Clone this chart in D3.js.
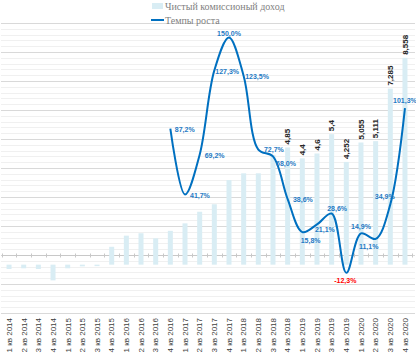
<!DOCTYPE html>
<html><head><meta charset="utf-8">
<script src="https://cdn.jsdelivr.net/npm/d3@7"></script>
<style>body{margin:0;background:#fff}svg{display:block}</style>
</head><body>
<svg id="c" width="416" height="356"></svg>
<script>
const categories = ["1 кв 2014","2 кв 2014","3 кв 2014","4 кв 2014","1 кв 2015","2 кв 2015","3 кв 2015","4 кв 2015",
"1 кв 2016","2 кв 2016","3 кв 2016","4 кв 2016","1 кв 2017","2 кв 2017","3 кв 2017","4 кв 2017",
"1 кв 2018","2 кв 2018","3 кв 2018","4 кв 2018","1 кв 2019","2 кв 2019","3 кв 2019","4 кв 2019",
"1 кв 2020","2 кв 2020","3 кв 2020","4 кв 2020"];
const income = [-0.18,-0.15,-0.18,-0.65,-0.15,-0.07,-0.06,0.74,1.2,1.3,1.09,1.4,1.71,2.19,2.5,3.5,3.78,3.78,4.54,4.85,4.4,4.6,5.4,4.252,5.055,5.111,7.285,8.558];
const incomeLabels = ["","","","","","","","","","","","","","","","","","","","4,85","4,4","4,6","5,4","4,252","5,055","5,111","7,285","8,558"];
const growthCategories = categories.slice(11);
const growth = [87.2,41.7,69.2,127.3,150.0,123.5,72.7,68.0,38.6,15.8,21.1,28.6,-12.3,14.9,11.1,34.9,101.3];
const growthLabels = ["87,2%","41,7%","69,2%","127,3%","150,0%","123,5%","72,7%","68,0%","38,6%","15,8%","21,1%","28,6%","-12,3%","14,9%","11,1%","34,9%","101,3%"];
// label placement: [anchor, dx, dy]
const growthLabelPlace = [["start",4.5,3],["start",5,3],["start",5,3],["start",1,3.8],["middle",0,-1.7],["start",1.5,3.3],
["start",5.6,2.5],["middle",13,9.4],["start",5.3,2.8],["middle",8.3,10.5],["start",-2,7.4],["middle",5.5,-2.7],
["middle",-1,9.7],["middle",0,-4.2],["middle",-7,10.3],["middle",-5.6,-5.2],["middle",0,-5.5]];
const legendNames = ["Чистый комиссионый доход","Темпы роста"];

const barColor = "#d9edf4", lineColor = "#0070c0";
const svg = d3.select("#c");
const pTop = 23, pBottom = 313, pLeft = 1.7, pRight = 412.3;

const x = d3.scaleBand().domain(categories).range([pLeft, pRight]);
const y1 = d3.scaleLinear().domain([-2, 10]).range([pBottom, pTop]);
const y2 = d3.scaleLinear().domain([-40, 160]).range([pBottom, pTop]);

// gridlines
const minorTicks = d3.range(-40, 160.1, 4);
svg.append("g").selectAll("line").data(minorTicks).join("line")
  .attr("x1", 1).attr("x2", 415)
  .attr("y1", d => Math.round(y2(d)) + 0.5).attr("y2", d => Math.round(y2(d)) + 0.5)
  .attr("stroke", d => (Math.abs(d % 20) < 1e-6) ? "#d9d9d9" : "#f0f0f0").attr("stroke-width", 1);

// category axis at secondary zero
const axY = Math.round(y2(0)) + 0.5;
svg.append("line").attr("x1", pLeft).attr("x2", pRight).attr("y1", axY).attr("y2", axY).attr("stroke", "#c8c8c8");
svg.append("g").selectAll("line").data(categories.concat(["end"])).join("line")
  .attr("x1", (d, i) => Math.round(pLeft + i * x.step()) + 0.5)
  .attr("x2", (d, i) => Math.round(pLeft + i * x.step()) + 0.5)
  .attr("y1", axY - 2).attr("y2", axY + 2).attr("stroke", "#c8c8c8");

// bars
const bw = 5;
svg.append("g").selectAll("rect").data(income).join("rect")
  .attr("x", (d, i) => x(categories[i]) + x.bandwidth() / 2 - bw / 2)
  .attr("width", bw)
  .attr("y", d => y1(Math.max(0, d)))
  .attr("height", d => Math.abs(y1(d) - y1(0)))
  .attr("fill", barColor);

// bar labels
svg.append("g").selectAll("text").data(income).join("text")
  .attr("transform", (d, i) => `translate(${x(categories[i]) + x.bandwidth() / 2},${y1(d) - 3}) rotate(-90)`)
  .attr("dy", "0.35em")
  .attr("font-family", "Liberation Sans, Arial, sans-serif").attr("font-size", 8).attr("font-weight", "bold")
  .attr("fill", "#262626")
  .text((d, i) => incomeLabels[i]);

// x labels
svg.append("g").selectAll("text").data(categories).join("text")
  .attr("transform", d => `translate(${x(d) + x.bandwidth() / 2},318) rotate(-90)`)
  .attr("dy", "0.35em").attr("text-anchor", "end")
  .attr("font-family", "Liberation Sans, Arial, sans-serif").attr("font-size", 8)
  .attr("fill", "#404040")
  .text(d => d);

// growth line
const line = d3.line()
  .x((d, i) => x(growthCategories[i]) + x.bandwidth() / 2)
  .y(d => y2(d))
  .curve(d3.curveCatmullRom.alpha(0.5));
svg.append("path").datum(growth).attr("d", line)
  .attr("fill", "none").attr("stroke", lineColor).attr("stroke-width", 2);

// growth labels
svg.append("g").selectAll("text").data(growth).join("text")
  .attr("x", (d, i) => x(growthCategories[i]) + x.bandwidth() / 2 + growthLabelPlace[i][1])
  .attr("y", (d, i) => y2(d) + growthLabelPlace[i][2])
  .attr("text-anchor", (d, i) => growthLabelPlace[i][0])
  .attr("font-family", "Liberation Sans, Arial, sans-serif").attr("font-size", 7).attr("font-weight", "bold")
  .attr("fill", d => d < 0 ? "#ff0000" : "#1f7ac4")
  .text((d, i) => growthLabels[i]);

// legend
const lg = svg.append("g");
lg.append("rect").attr("x", 152).attr("y", 3).attr("width", 11).attr("height", 6).attr("fill", barColor);
lg.append("text").attr("x", 165).attr("y", 10).text(legendNames[0])
  .attr("font-family", "Liberation Serif, Times New Roman, serif").attr("font-size", 10).attr("fill", "#7f7f7f");
lg.append("line").attr("x1", 151).attr("x2", 164).attr("y1", 20).attr("y2", 20).attr("stroke", lineColor).attr("stroke-width", 2);
lg.append("text").attr("x", 165).attr("y", 23.5).text(legendNames[1])
  .attr("font-family", "Liberation Serif, Times New Roman, serif").attr("font-size", 10).attr("fill", "#7f7f7f");
</script>
</body></html>
